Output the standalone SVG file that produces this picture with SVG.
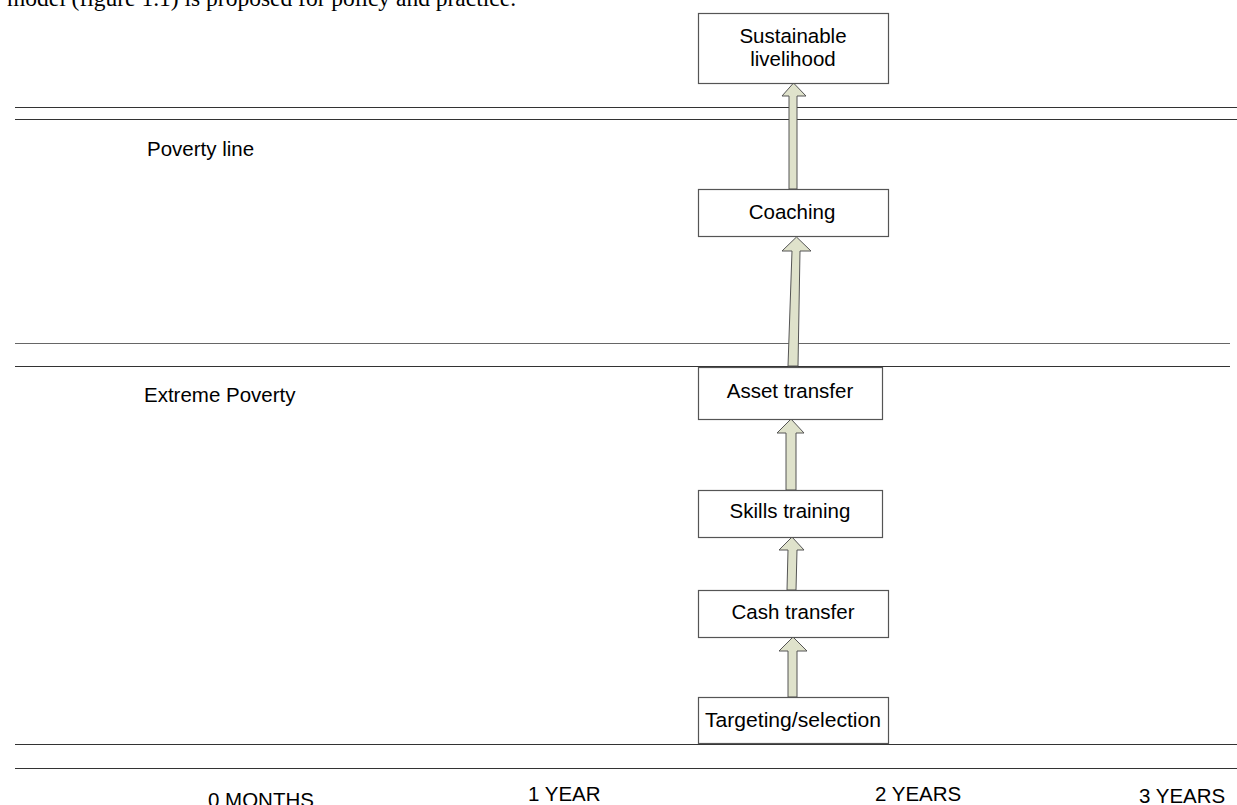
<svg xmlns="http://www.w3.org/2000/svg" width="1237" height="805" viewBox="0 0 1237 805">
<style>
.box{fill:#fff;stroke:#555;stroke-width:1.2}
.t{font-family:"Liberation Sans",Arial,sans-serif;font-size:20.5px;fill:#000;text-anchor:middle}
.l{font-family:"Liberation Sans",Arial,sans-serif;font-size:20.5px;fill:#000}
.ln{stroke:#333;stroke-width:1.2}
.ln2{stroke:#666;stroke-width:1.2}
.arr{fill:#dfe2cb;stroke:#555;stroke-width:1}
</style>
<rect width="1237" height="805" fill="#fff"/>
<text x="7" y="6" font-family="Liberation Serif,Times New Roman,serif" font-size="23.5">model (figure 1.1) is proposed for policy and practice.</text>
<g id="bands">
<line class="ln" x1="15" y1="107.5" x2="1237" y2="107.5"/>
<line class="ln" x1="15" y1="119.5" x2="1237" y2="119.5"/>
<line class="ln2" x1="15" y1="343.5" x2="1230" y2="343.5"/>
<line class="ln" x1="15" y1="366.5" x2="1230" y2="366.5"/>
<line class="ln" x1="15" y1="744.5" x2="1237" y2="744.5"/>
<line class="ln" x1="15" y1="768.5" x2="1237" y2="768.5"/>
<text class="l" x="147" y="156">Poverty line</text>
<text class="l" x="144" y="402">Extreme Poverty</text>
<text class="l" x="208" y="807">0 MONTHS</text>
<text class="l" x="528" y="801">1 YEAR</text>
<text class="l" x="875" y="801">2 YEARS</text>
<text class="l" x="1139" y="803">3 YEARS</text>
</g>
<g id="connectors">
<polygon class="arr" points="789,189 789,96 782,96 793.5,83 806,96 797,96 797,189"/>
<polygon class="arr" points="788,366 792,251 782,251 796.5,237 811,251 800,251 798,366"/>
<polygon class="arr" points="786,490 786,433 777,433 791,419 804,433 796,433 796,490"/>
<polygon class="arr" points="787,590 788,550 779,550 792,537 804,550 797,550 796,590"/>
<polygon class="arr" points="788,697 788,651 779,651 793,637 807,651 797,651 797,697"/>
</g>
<g id="n1"><rect class="box" x="698.5" y="13.5" width="190" height="70"/><text class="t" x="793" y="43">Sustainable</text><text class="t" x="793" y="66">livelihood</text></g>
<g id="n2"><rect class="box" x="698.5" y="189.5" width="190" height="47"/><text class="t" x="792" y="219">Coaching</text></g>
<g id="n3"><rect class="box" x="698.5" y="367.5" width="184" height="52"/><text class="t" x="790" y="398">Asset transfer</text></g>
<g id="n4"><rect class="box" x="698.5" y="490.5" width="184" height="47"/><text class="t" x="790" y="518">Skills training</text></g>
<g id="n5"><rect class="box" x="698.5" y="590.5" width="190" height="47"/><text class="t" x="793" y="619">Cash transfer</text></g>
<g id="n6"><rect class="box" x="698.5" y="697.5" width="190" height="46"/><text class="t" x="793" y="727" textLength="176" lengthAdjust="spacingAndGlyphs">Targeting/selection</text></g>
</svg>
